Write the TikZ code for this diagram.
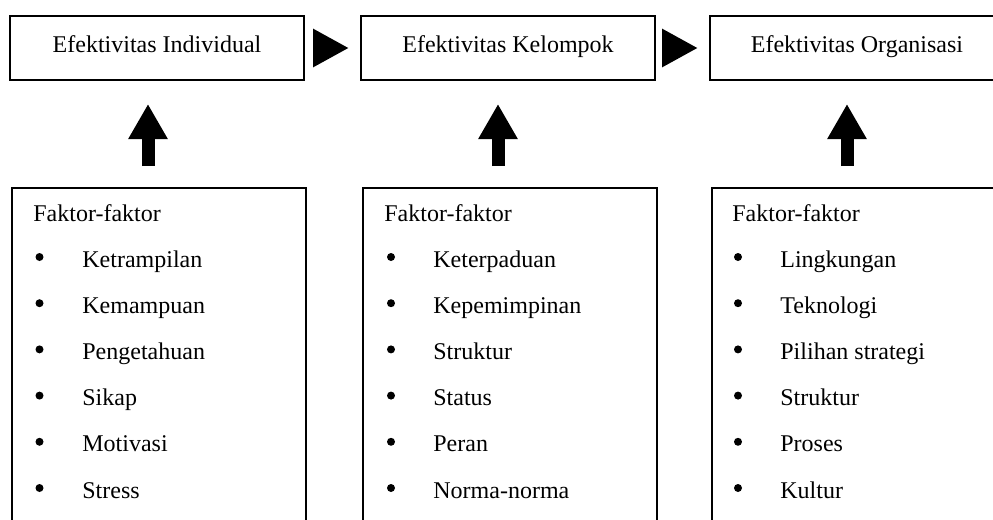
\documentclass[tikz,border=0pt]{standalone}
\usepackage{fontspec}
\setmainfont{Liberation Serif}
\usetikzlibrary{arrows.meta,positioning}

\begin{document}
\begin{tikzpicture}[x=0.5pt,y=-0.5pt,
		efbox/.style={draw,line width=1pt,minimum width=147pt,minimum height=32pt,text depth=4pt,font=\fontsize{12}{14}\selectfont},
		fakbox/.style={draw,line width=1pt,minimum width=147pt,minimum height=200pt,anchor=north},
		maju/.style={line width=7pt,-{Triangle[length=18pt,width=18pt]}},
		naik/.style={line width=6.5pt,-{Triangle[length=17.5pt,width=18.5pt]}},
		item/.style={anchor=base west,inner sep=0pt,font=\fontsize{12}{14}\selectfont}]
			\useasboundingbox (0,0) rectangle (993,520);
			\clip (0,0) rectangle (993,520);
			% efektivitas
			\node[efbox] (ei) at (157,48) {Efektivitas Individual};
			\node[efbox] (ek) at (508,48) {Efektivitas Kelompok};
			\node[efbox] (eo) at (857,48) {Efektivitas Organisasi};
			\draw[maju,shorten <=4.5pt,shorten >=5.5pt] (ei) -- (ek);
			\draw[maju,shorten <=4.5pt,shorten >=5.5pt] (ek) -- (eo);
			% faktor-faktor
			\node[fakbox] (fi) at (159,187) {};
			\node[fakbox] (fk) at (510,187) {};
			\node[fakbox] (fo) at (859,187) {};
			\draw[naik,shorten <=10.5pt,shorten >=11.5pt] ([xshift=-5.5pt]fi.north) -- ([xshift=-4.5pt]ei.south);
			\draw[naik,shorten <=10.5pt,shorten >=11.5pt] ([xshift=-6pt]fk.north) -- ([xshift=-5pt]ek.south);
			\draw[naik,shorten <=10.5pt,shorten >=11.5pt] ([xshift=-6pt]fo.north) -- ([xshift=-5pt]eo.south);
			\node[item] (hi) at (33,221) {Faktor-faktor};
			\node[item] (hk) at (384,221) {Faktor-faktor};
			\node[item] (ho) at (732,221) {Faktor-faktor};
			\foreach \nama [count=\i] in {Ketrampilan,Kemampuan,Pengetahuan,Sikap,Motivasi,Stress} {
				\fill (39.5,{257+46.2*(\i-1)}) circle (2pt);
				\node[item] (fi-\i) at (82,{267+46.2*(\i-1)}) {\nama};
			}
			\foreach \nama [count=\i] in {Keterpaduan,Kepemimpinan,Struktur,Status,Peran,Norma-norma} {
				\fill (391,{257+46.2*(\i-1)}) circle (2pt);
				\node[item] (fk-\i) at (433,{267+46.2*(\i-1)}) {\nama};
			}
			\foreach \nama [count=\i] in {Lingkungan,Teknologi,Pilihan strategi,Struktur,Proses,Kultur} {
				\fill (738,{257+46.2*(\i-1)}) circle (2pt);
				\node[item] (fo-\i) at (780,{267+46.2*(\i-1)}) {\nama};
			}
		\end{tikzpicture}
\end{document}
